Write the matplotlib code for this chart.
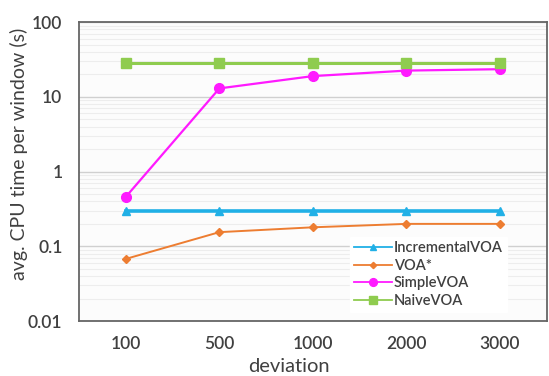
import numpy as np
import matplotlib
matplotlib.use("Agg")
import matplotlib.pyplot as plt
from matplotlib.ticker import LogLocator, NullFormatter, FixedFormatter, FixedLocator

deviations = ["100", "500", "1000", "2000", "3000"]
incremental_voa = [0.3, 0.3, 0.3, 0.3, 0.3]
voa_star = [0.068, 0.155, 0.18, 0.2, 0.2]
simple_voa = [0.46, 13.0, 19.0, 22.5, 23.5]
naive_voa = [28, 28, 28, 28, 28]

plt.rcParams["font.family"] = ["Lato", "DejaVu Sans"]

fig = plt.figure(figsize=(5.49, 3.76), dpi=100)
ax = fig.add_axes([0.144, 0.146, 0.852, 0.795])
x = np.arange(len(deviations))

ax.plot(x, incremental_voa, color="#21b0e6", lw=2.6, marker="^", ms=6, label="IncrementalVOA")
ax.plot(x, voa_star, color="#ed7d31", lw=1.4, marker="D", ms=4, label="VOA*")
ax.plot(x, simple_voa, color="#ff1aff", lw=1.6, marker="o", ms=7, label="SimpleVOA")
ax.plot(x, naive_voa, color="#8fcc4f", lw=2.2, marker="s", ms=6.5, label="NaiveVOA")

ax.set_yscale("log")
ax.set_ylim(0.01, 100)
ax.set_xlim(-0.5, 4.5)
ax.set_xticks(x)
ax.set_xticklabels(deviations, fontsize=12.5, color="#404040", fontweight="semibold")
ax.yaxis.set_major_locator(FixedLocator([0.01, 0.1, 1, 10, 100]))
ax.yaxis.set_major_formatter(FixedFormatter(["0.01", "0.1", "1", "10", "100"]))
ax.yaxis.set_minor_locator(LogLocator(base=10, subs=np.arange(2, 10)))
ax.yaxis.set_minor_formatter(NullFormatter())
for lab in ax.get_yticklabels():
    lab.set_fontweight("semibold")
ax.tick_params(axis="y", labelsize=12.5, colors="#404040", length=0, which="both", pad=12)
ax.tick_params(axis="x", length=0, pad=11)
ax.grid(True, which="major", axis="y", color="#d0d0d0", lw=1.0)
ax.grid(True, which="minor", axis="y", color="#ededed", lw=0.8)
ax.set_axisbelow(True)
ax.set_facecolor("#fcfcfc")
for s in ax.spines.values():
    s.set_color("#666666")
    s.set_linewidth(1.3)

ax.set_xlabel("deviation", fontsize=14.5, color="#404040")
ax.set_ylabel("avg. CPU time per window (s)", fontsize=14, color="#404040")
ax.xaxis.set_label_coords(0.449, -0.125)
ax.yaxis.set_label_coords(-0.11, 0.558)

leg = ax.legend(loc="lower right", bbox_to_anchor=(0.93, 0.005), fontsize=10.5, frameon=True,
                handlelength=2.6, handletextpad=0.1, labelspacing=0.25, borderpad=0.3,
                markerscale=0.8)
leg.get_frame().set_edgecolor("white")
leg.get_frame().set_alpha(1.0)
leg.get_frame().set_boxstyle("square", pad=0)
for t in leg.get_texts():
    t.set_color("#404040")
    t.set_fontweight("semibold")
for h in leg.get_lines():
    h.set_linewidth(1.3)

fig.savefig("out.png", dpi=100)
